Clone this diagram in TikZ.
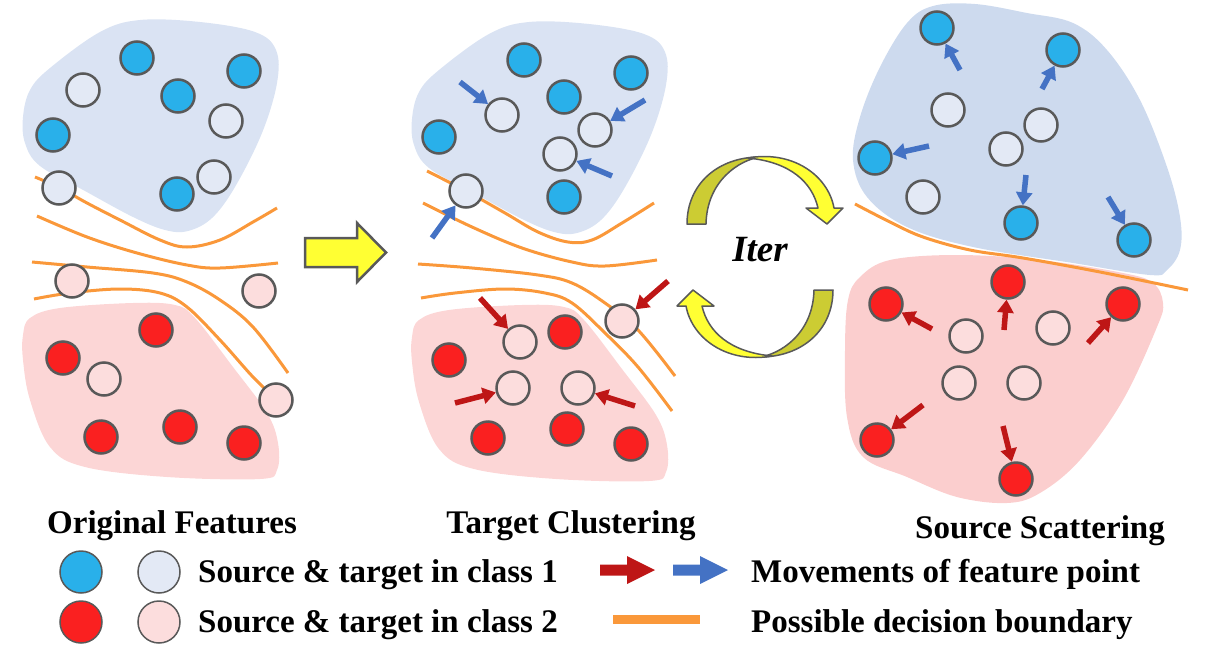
\documentclass[tikz,border=0pt]{standalone}
\usepackage{fontspec}
\setmainfont{Liberation Serif}
\usetikzlibrary{arrows.meta}
\definecolor{srcblue}{RGB}{41,176,234}
\definecolor{tgtblue}{RGB}{227,233,245}
\definecolor{srcred}{RGB}{250,32,32}
\definecolor{tgtpink}{RGB}{252,221,221}
\definecolor{blobblue}{RGB}{218,227,243}
\definecolor{blobblueR}{RGB}{205,218,238}
\definecolor{blobpink}{RGB}{252,214,214}
\definecolor{blobpinkR}{RGB}{251,206,206}
\definecolor{cgray}{RGB}{89,89,89}
\definecolor{bndorange}{RGB}{250,152,58}
\definecolor{arrblue}{RGB}{68,114,196}
\definecolor{arrred}{RGB}{190,22,22}
\definecolor{iteryel}{RGB}{255,255,51}
\definecolor{iterdark}{RGB}{204,204,51}
\begin{document}
\begin{tikzpicture}[x=1pt,y=-1pt,
  pt/.style={circle,draw=cgray,line width=2.5pt,minimum size=33pt,inner sep=0pt},
  src1/.style={pt,fill=srcblue},
  tgt1/.style={pt,fill=tgtblue},
  src2/.style={pt,fill=srcred},
  tgt2/.style={pt,fill=tgtpink},
  lgpt/.style={circle,draw=cgray,line width=1.5pt,minimum size=42pt,inner sep=0pt},
  bnd/.style={draw=bndorange,line width=3pt},
  mvb/.style={draw=arrblue,line width=5.5pt,-{Triangle[length=13pt,width=16pt]}},
  mvr/.style={draw=arrred,line width=5.5pt,-{Triangle[length=13pt,width=16pt]}},
  txt/.style={font=\fontsize{33}{38}\selectfont\bfseries,inner sep=0pt},
  itershape/.style={draw=cgray,line width=1.5pt,line join=round},
]
\useasboundingbox (0,0) rectangle (1218,648);

% ---------- blobs ----------
\def\blueblob{(23,117) (30,90) (50,68) (100,32) (140,20) (200,22) (255,32) (276,50) (277,83) (262,133) (235,187) (212,218) (188,231) (165,230) (133,217) (85,191) (40,166) (25,143)}
\def\pinkblob{(23,335) (30,318) (60,308) (133,303) (175,305) (195,318) (233,367) (267,413) (278,443) (277,470) (260,479) (167,477) (85,467) (50,447) (30,400) (23,360)}
\fill[blobblue] plot[smooth cycle,tension=0.6] coordinates {\blueblob};
\fill[blobpink] plot[smooth cycle,tension=0.6] coordinates {\pinkblob};
\begin{scope}[shift={(389,2)}]
\fill[blobblue] plot[smooth cycle,tension=0.6] coordinates {\blueblob};
\fill[blobpink] plot[smooth cycle,tension=0.6] coordinates {\pinkblob};
\end{scope}
\fill[blobblueR] plot[smooth cycle,tension=0.6] coordinates {(853,160) (860,117) (880,67) (907,23) (933,6) (975,4) (1027,13) (1073,23) (1107,50) (1140,100) (1167,167) (1180,217) (1180,250) (1167,270) (1150,275) (1073,263) (973,247) (907,227) (867,197)};
\fill[blobpinkR] plot[smooth cycle,tension=0.6] coordinates {(848,300) (860,277) (890,260) (957,255) (1040,260) (1123,273) (1153,283) (1163,303) (1157,327) (1123,400) (1080,460) (1040,493) (1007,503) (957,497) (907,477) (863,457) (847,417) (845,350)};

% ---------- decision boundaries ----------
\draw[bnd] plot[smooth,tension=0.6] coordinates {(35,177) (60,188) (87,203) (120,220) (160,240) (187,247) (220,240) (253,222) (277,208)};
\draw[bnd] plot[smooth,tension=0.6] coordinates {(37,216) (87,237) (137,253) (187,265) (220,268) (278,263)};
\draw[bnd] plot[smooth,tension=0.6] coordinates {(32,262) (87,267) (153,273) (187,282) (220,300) (253,327) (288,373)};
\draw[bnd] plot[smooth,tension=0.6] coordinates {(34,299) (70,293) (120,289) (160,293) (187,307) (220,340) (253,377) (276,399)};
\draw[bnd] plot[smooth,tension=0.6] coordinates {(427,171) (466,191) (505,213) (538,232) (568,242) (592,240) (622,223) (654,203)};
\draw[bnd] plot[smooth,tension=0.6] coordinates {(423,203) (472,227) (522,248) (572,262) (605,266) (657,260)};
\draw[bnd] plot[smooth,tension=0.6] coordinates {(418,264) (472,268) (538,275) (572,283) (605,303) (638,330) (675,376)};
\draw[bnd] plot[smooth,tension=0.6] coordinates {(421,298) (455,293) (505,289) (545,293) (572,303) (605,333) (638,367) (672,411)};
\draw[bnd] plot[smooth,tension=0.6] coordinates {(855,204) (890,222) (923,237) (970,250) (1023,258) (1100,272) (1188,290)};

% ---------- left panel points ----------
\node[src1] (a1) at (137,58) {};
\node[src1] (a2) at (244,71) {};
\node[src1] (a3) at (178,96) {};
\node[src1] (a4) at (53,135) {};
\node[src1] (a5) at (177,194) {};
\node[tgt1] (a6) at (83,90) {};
\node[tgt1] (a7) at (226,121) {};
\node[tgt1] (a8) at (214,177) {};
\node[tgt1] (a9) at (59,188) {};
\node[tgt2] (b1) at (72,281) {};
\node[tgt2] (b2) at (259,291) {};
\node[tgt2] (b3) at (104,379) {};
\node[tgt2] (b4) at (276,400) {};
\node[src2] (b5) at (156,330) {};
\node[src2] (b6) at (63,358) {};
\node[src2] (b7) at (101,437) {};
\node[src2] (b8) at (180,427) {};
\node[src2] (b9) at (244,443) {};

% ---------- big arrow ----------
\draw[fill=iteryel,draw=cgray,line width=2.5pt,line join=miter] (305,238) -- (357,238) -- (357,223) -- (386,252.5) -- (357,282) -- (357,267) -- (305,267) -- cycle;

% ---------- middle panel points ----------
\node[src1] (m1) at (524,60) {};
\node[src1] (m2) at (631,73) {};
\node[src1] (m3) at (564,97) {};
\node[src1] (m4) at (439,137) {};
\node[src1] (m5) at (564,197) {};
\node[tgt1] (m6) at (502,115) {};
\node[tgt1] (m7) at (595,130) {};
\node[tgt1] (m8) at (560,154) {};
\node[tgt1] (m9) at (466,191) {};
\node[tgt2] (n1) at (622,321) {};
\node[tgt2] (n2) at (520,342) {};
\node[tgt2] (n3) at (513,388) {};
\node[tgt2] (n4) at (578,388) {};
\node[src2] (n5) at (565,332) {};
\node[src2] (n6) at (449,360) {};
\node[src2] (n7) at (488,438) {};
\node[src2] (n8) at (567,429) {};
\node[src2] (n9) at (631,444) {};
\coordinate (ms1) at (460,82);
\coordinate (ms2) at (645,100);
\coordinate (ms3) at (612,176);
\coordinate (ms4) at (432,238);
\coordinate (ns1) at (668,281);
\coordinate (ns2) at (480,298);
\coordinate (ns3) at (455,403);
\coordinate (ns4) at (635,406);
\draw[mvb] (ms1) -- (m6);
\draw[mvb] (ms2) -- (m7);
\draw[mvb] (ms3) -- (m8);
\draw[mvb] (ms4) -- (m9);
\draw[mvr] (ns1) -- (n1);
\draw[mvr] (ns2) -- (n2);
\draw[mvr] (ns3) -- (n3);
\draw[mvr] (ns4) -- (n4);

% ---------- iteration arrows ----------
\def\iterarrow{%
  \draw[itershape,fill=iterdark] (687,224) .. controls (687,184) and (718,157) .. (760,157) .. controls (740,160) and (707,180) .. (706,224) -- cycle;
  \draw[itershape,fill=iteryel] (748,158) .. controls (792,150) and (828,175) .. (834,208) -- (843,208) -- (827,224) -- (806,208) -- (818,208) .. controls (812,182) and (790,162) .. (748,158) -- cycle;
}
\iterarrow
\begin{scope}[rotate around={180:(760,257)}]
\iterarrow
\end{scope}
\node[font=\fontsize{37}{40}\selectfont\bfseries\itshape,inner sep=0pt,anchor=base] (iter) at (760,261) {Iter};

% ---------- right panel points ----------
\node[src1] (r1) at (937,28) {};
\node[src1] (r2) at (1063,50) {};
\node[src1] (r3) at (875,158) {};
\node[src1] (r4) at (1021,223) {};
\node[src1] (r5) at (1134,240) {};
\node[tgt1] (r6) at (948,110) {};
\node[tgt1] (r7) at (1041,125) {};
\node[tgt1] (r8) at (1006,149) {};
\node[tgt1] (r9) at (923,197) {};
\node[src2] (s1) at (1008,282) {};
\node[src2] (s2) at (886,304) {};
\node[src2] (s3) at (1123,304) {};
\node[src2] (s4) at (877,440) {};
\node[src2] (s5) at (1016,479) {};
\node[tgt2] (s6) at (966,336) {};
\node[tgt2] (s7) at (1053,328) {};
\node[tgt2] (s8) at (959,383) {};
\node[tgt2] (s9) at (1024,383) {};
\coordinate (rs1) at (960,70);
\coordinate (rs2) at (1042,89);
\coordinate (rs3) at (929,146);
\coordinate (rs4) at (1026,175);
\coordinate (rs5) at (1108,197);
\coordinate (ss1) at (1004,330);
\coordinate (ss2) at (932,329);
\coordinate (ss3) at (1088,343);
\coordinate (ss4) at (923,405);
\coordinate (ss5) at (1003,426);
\draw[mvb] (rs1) -- (r1);
\draw[mvb] (rs2) -- (r2);
\draw[mvb] (rs3) -- (r3);
\draw[mvb] (rs4) -- (r4);
\draw[mvb] (rs5) -- (r5);
\draw[mvr] (ss1) -- (s1);
\draw[mvr] (ss2) -- (s2);
\draw[mvr] (ss3) -- (s3);
\draw[mvr] (ss4) -- (s4);
\draw[mvr] (ss5) -- (s5);

% ---------- titles ----------
\node[txt,anchor=base] (t1) at (172,533) {Original Features};
\node[txt,anchor=base] (t2) at (571,533) {Target Clustering};
\node[txt,anchor=base] (t3) at (1040,538) {Source Scattering};

% ---------- legend ----------
\node[lgpt,fill=srcblue] (g1) at (81,572) {};
\node[lgpt,fill=tgtblue] (g2) at (159,572) {};
\node[lgpt,fill=srcred] (g3) at (81,622) {};
\node[lgpt,fill=tgtpink] (g4) at (159,622) {};
\node[txt,anchor=base west] (g5) at (198,582) {Source \& target in class 1};
\node[txt,anchor=base west] (g6) at (198,632) {Source \& target in class 2};
\fill[arrred] (600,564.5) -- (627,564.5) -- (627,556) -- (655,570) -- (627,584) -- (627,575.5) -- (600,575.5) -- cycle;
\fill[arrblue] (673,564.5) -- (700,564.5) -- (700,556) -- (728,570) -- (700,584) -- (700,575.5) -- (673,575.5) -- cycle;
\node[txt,anchor=base west] (g7) at (751,582) {Movements of feature point};
\draw[draw=bndorange,line width=9pt] (613,619) -- (700,619);
\node[txt,anchor=base west] (g8) at (751,632) {Possible decision boundary};
\end{tikzpicture}
\end{document}
